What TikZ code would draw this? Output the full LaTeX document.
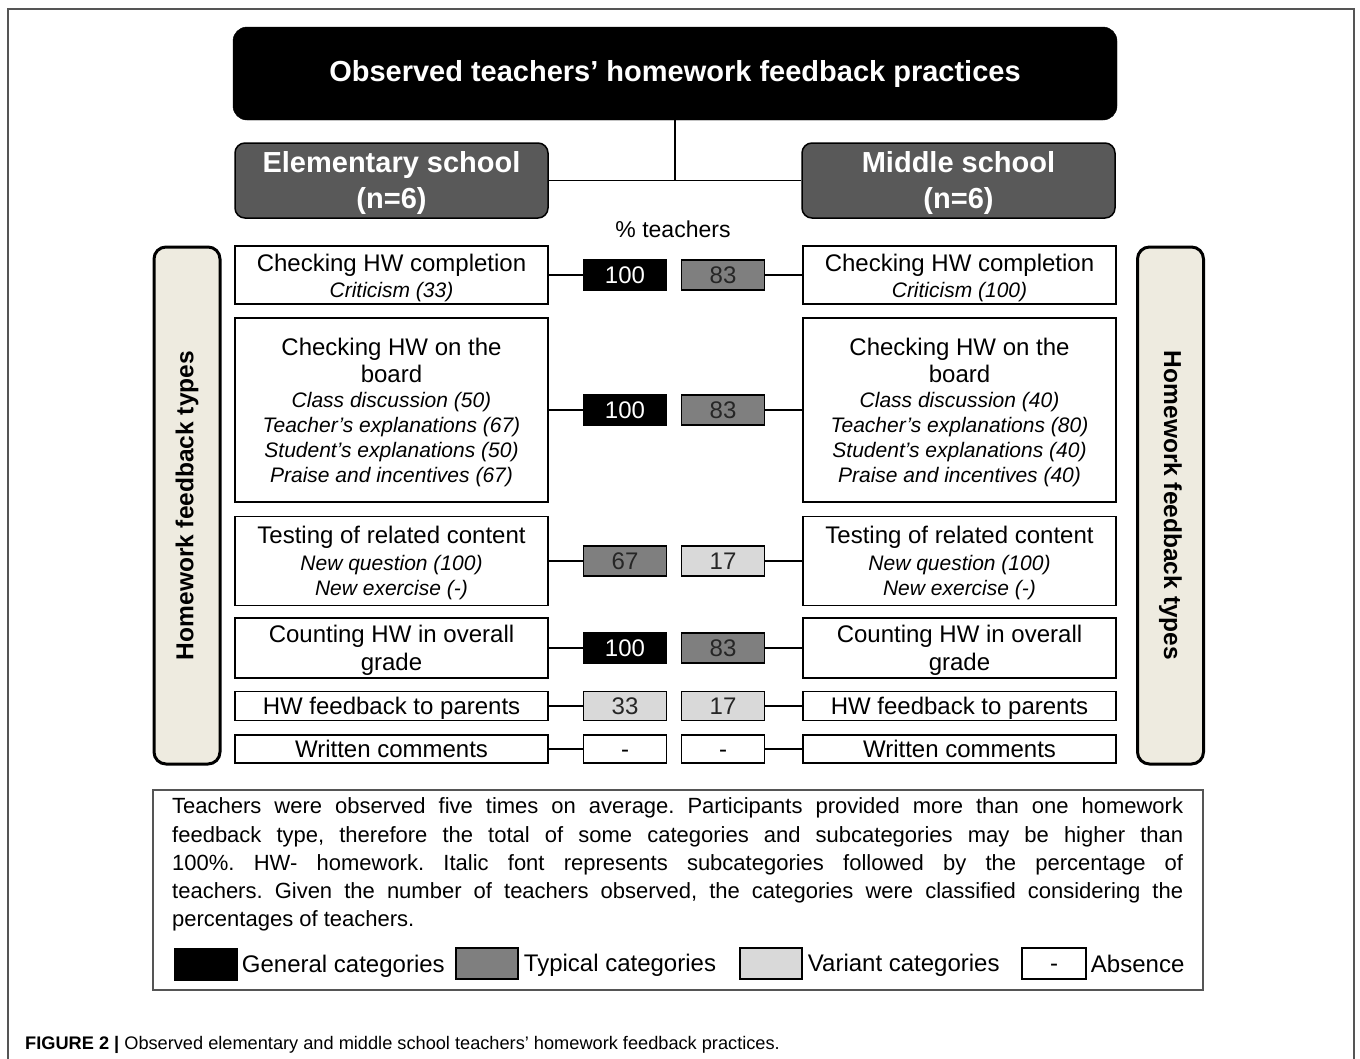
\documentclass[tikz,border=0pt]{standalone}
\usepackage{fontspec}
\setmainfont{Liberation Sans}
\definecolor{schoolgray}{HTML}{595959}
\definecolor{typgray}{HTML}{7F7F7F}
\definecolor{vargray}{HTML}{D9D9D9}
\definecolor{beige}{HTML}{EEEBE0}
\definecolor{framegray}{HTML}{555555}
\newcommand\subc[1]{{\fontsize{21}{25}\selectfont\itshape #1}}
\newcommand\dsh{\vphantom{0}-}
\tikzset{
  titlebox/.style={fill=black, draw=black, rounded corners=14pt, minimum width=884pt, minimum height=93pt, text=white, font=\fontsize{29}{34}\selectfont\bfseries, inner sep=0pt},
  school/.style={fill=schoolgray, draw=black, line width=1.5pt, rounded corners=10pt, minimum width=313pt, minimum height=75pt, inner sep=0pt},
  schooltext/.style={text=white, font=\fontsize{29}{36}\selectfont\bfseries, align=center, inner sep=0pt},
  sidebar/.style={fill=beige, draw=black, line width=3pt, rounded corners=12pt, minimum width=66pt, minimum height=517pt, inner sep=0pt},
  sidetext/.style={font=\fontsize{24.5}{28}\selectfont\bfseries, inner sep=0pt},
  cat/.style={draw=black, line width=1.8pt, fill=white, minimum width=313pt, inner sep=0pt},
  cattext/.style={align=center, font=\fontsize{24}{27}\selectfont, inner sep=0pt},
  val/.style={draw=black, line width=1.5pt, minimum width=83pt, minimum height=30pt, font=\fontsize{24}{27}\selectfont, inner sep=0pt},
  gen/.style={val, fill=black, text=white},
  typ/.style={val, fill=typgray, text=black!85},
  var/.style={val, fill=vargray, text=black!85},
  absn/.style={val, fill=white, text=black},
  conn/.style={line width=1.8pt},
  notetext/.style={anchor=base west, inner sep=0pt, font=\fontsize{22}{28}\selectfont\frenchspacing},
  legsq/.style={draw=black, line width=1.5pt, minimum width=62pt, minimum height=31pt, inner sep=0pt},
  leglab/.style={anchor=base west, inner sep=0pt, font=\fontsize{24}{28}\selectfont}
}
\begin{document}
\begin{tikzpicture}[x=1pt,y=-1pt]
\useasboundingbox (0,0) rectangle (1360,1058);
% outer frame
\draw[framegray, line width=1.5pt] (8,1060) -- (8,9) -- (1354,9) -- (1354,1060);

% header
\node[titlebox] (title) at (675,73.5) {Observed teachers’ homework feedback practices};
\node[school] (elem) at (391.5,180.5) {};
\node[schooltext] (elemt) at ([yshift=-2.5pt]elem.center) {Elementary school\\(n=6)};
\node[school] (mid) at (958.5,180.5) {};
\node[schooltext] (midt) at ([yshift=-2.5pt]mid.center) {Middle school\\(n=6)};
\draw[conn] (title.south) -- (title.south |- elem.east);
\draw[conn] (elem.east) -- (mid.west);
\node[font=\fontsize{23}{27}\selectfont] (pct) at (673,229) {\% teachers};

% side bars
\node[sidebar] (sideL) at (187,505.5) {};
\node[sidetext, rotate=90] (sideLt) at (sideL.center) {Homework feedback types};
\node[sidebar] (sideR) at (1170.5,505.5) {};
\node[sidetext, rotate=-90] (sideRt) at (sideR.center) {Homework feedback types};

% category boxes (frames)
\foreach \side/\x in {L/391.5, R/959.5} {
  \node[cat, minimum height=58pt] (\side1) at (\x,275) {};
  \node[cat, minimum height=184pt] (\side2) at (\x,410) {};
  \node[cat, minimum height=89pt] (\side3) at (\x,561) {};
  \node[cat, minimum height=60pt] (\side4) at (\x,648) {};
  \node[cat, minimum height=29pt] (\side5) at (\x,706) {};
  \node[cat, minimum height=28pt] (\side6) at (\x,749) {};
}
% left texts
\node[cattext] (L1t) at ([yshift=-2.5pt]L1.center) {Checking HW completion\\[-1pt]\subc{Criticism (33)}};
\node[cattext] (L2t) at ([yshift=-2pt]L2.center) {Checking HW on the\\board\\[-2pt]\subc{Class discussion (50)}\\[-2pt]\subc{Teacher’s explanations (67)}\\[-2pt]\subc{Student’s explanations (50)}\\[-2pt]\subc{Praise and incentives (67)}};
\node[cattext] (L3t) at ([yshift=-2pt]L3.center) {Testing of related content\\\subc{New question (100)}\\[-2pt]\subc{New exercise (-)}};
\node[cattext] (L4t) at ([yshift=-2.5pt]L4.center) {Counting HW in overall\\[1pt]grade};
\node[cattext] (L5t) at ([yshift=-2pt]L5.center) {HW feedback to parents};
\node[cattext] (L6t) at (L6.center) {Written comments};
% right texts
\node[cattext] (R1t) at ([yshift=-2.5pt]R1.center) {Checking HW completion\\[-1pt]\subc{Criticism (100)}};
\node[cattext] (R2t) at ([yshift=-2pt]R2.center) {Checking HW on the\\board\\[-2pt]\subc{Class discussion (40)}\\[-2pt]\subc{Teacher’s explanations (80)}\\[-2pt]\subc{Student’s explanations (40)}\\[-2pt]\subc{Praise and incentives (40)}};
\node[cattext] (R3t) at ([yshift=-2pt]R3.center) {Testing of related content\\\subc{New question (100)}\\[-2pt]\subc{New exercise (-)}};
\node[cattext] (R4t) at ([yshift=-2.5pt]R4.center) {Counting HW in overall\\[1pt]grade};
\node[cattext] (R5t) at ([yshift=-2pt]R5.center) {HW feedback to parents};
\node[cattext] (R6t) at (R6.center) {Written comments};

% value boxes
\node[gen] (VL1) at (625,275) {100};
\node[typ] (VR1) at (723,275) {83};
\node[gen] (VL2) at (625,410) {100};
\node[typ] (VR2) at (723,410) {83};
\node[typ] (VL3) at (625,561) {67};
\node[var] (VR3) at (723,561) {17};
\node[gen] (VL4) at (625,648) {100};
\node[typ] (VR4) at (723,648) {83};
\node[var, minimum height=29pt] (VL5) at (625,706) {33};
\node[var, minimum height=29pt] (VR5) at (723,706) {17};
\node[absn, minimum height=28pt] (VL6) at (625,749) {\dsh};
\node[absn, minimum height=28pt] (VR6) at (723,749) {\dsh};

% connectors
\foreach \i in {1,...,6} {
  \draw[conn] (L\i.east) -- (L\i.east -| VL\i.west);
  \draw[conn] (R\i.west -| VR\i.east) -- (R\i.west);
}

% note box
\node[draw=framegray, line width=1.5pt, minimum width=1050pt, minimum height=200pt, inner sep=0pt] (note) at (678,890) {};
\node[notetext] (n1) at (172,813) {\makebox[1011pt][s]{Teachers were observed five times on average. Participants provided more than one homework}};
\node[notetext] (n2) at (172,842) {\makebox[1011pt][s]{feedback type, therefore the total of some categories and subcategories may be higher than}};
\node[notetext] (n3) at (172,870) {\makebox[1011pt][s]{100\%. HW- homework. Italic font represents subcategories followed by the percentage of}};
\node[notetext] (n4) at (172,898) {\makebox[1011pt][s]{teachers. Given the number of teachers observed, the categories were classified considering the}};
\node[notetext] (n5) at (172,926) {percentages of teachers.};

% legend
\node[legsq, fill=black] (kgen) at (206,964.5) {};
\node[leglab] (lgen) at ([xshift=4pt]kgen.east |- 0,972) {General categories};
\node[legsq, fill=typgray] (ktyp) at (487,963.5) {};
\node[leglab] (ltyp) at ([xshift=5pt]ktyp.east |- 0,971) {Typical categories};
\node[legsq, fill=vargray] (kvar) at (771,963.5) {};
\node[leglab] (lvar) at ([xshift=5pt]kvar.east |- 0,971) {Variant categories};
\node[legsq, fill=white, minimum width=64pt, font=\fontsize{24}{28}\selectfont] (kabs) at (1054,963.5) {\dsh};
\node[leglab] (labs) at ([xshift=4pt]kabs.east |- 0,972) {Absence};

% caption
\node[anchor=base west, inner sep=0pt, font=\fontsize{18.2}{21}\selectfont] (cap) at (25,1049) {\textbf{FIGURE 2 \textbar} Observed elementary and middle school teachers’ homework feedback practices.};
\end{tikzpicture}
\end{document}
